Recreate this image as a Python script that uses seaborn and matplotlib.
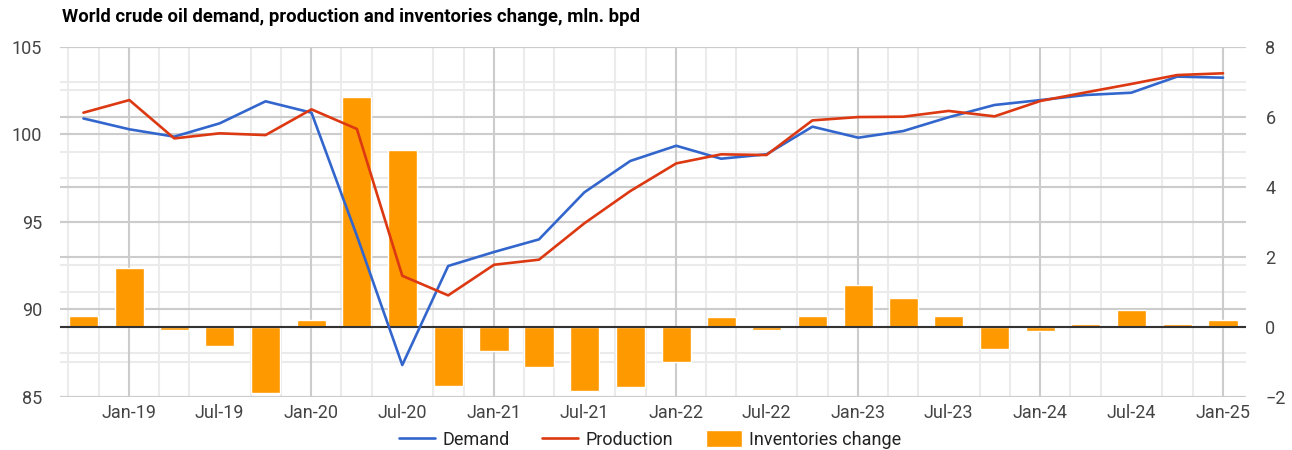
# Tratamiento de datos
import pandas as pd
import numpy as np

# Visualizaciones
import matplotlib
matplotlib.use("Agg")
import matplotlib.pyplot as plt
import matplotlib.dates as mdates
from matplotlib.ticker import MultipleLocator
import seaborn as sns

# Datos trimestrales (Oct-18 ... Jan-25)
fechas = pd.date_range("2018-10-01", "2025-01-01", freq="QS")
demanda = [100.9, 100.28, 99.86, 100.62, 101.88, 101.23, 94.2, 86.81, 92.47, 93.27,
           93.99, 96.68, 98.47, 99.34, 98.6, 98.85, 100.43, 99.8, 100.18, 100.97,
           101.67, 101.95, 102.24, 102.37, 103.29, 103.23]
produccion = [101.23, 101.95, 99.76, 100.05, 99.95, 101.42, 100.3, 91.91, 90.79, 92.54,
              92.83, 94.91, 96.75, 98.33, 98.85, 98.81, 100.79, 100.98, 101.0, 101.33,
              101.02, 101.9, 102.39, 102.87, 103.38, 103.48]
inventarios = [0.31, 1.68, -0.09, -0.54, -1.89, 0.19, 6.56, 5.05, -1.69, -0.69,
               -1.15, -1.84, -1.72, -1.01, 0.28, -0.08, 0.31, 1.19, 0.82, 0.31,
               -0.64, -0.12, 0.07, 0.48, 0.09, 0.19]

etiquetas = ["Demand", "Production", "Inventories change"]
colores = ["#3366cc", "#dc3912", "#ff9900"]

df = pd.DataFrame({
    "x": mdates.date2num(fechas),
    "demanda": demanda,
    "produccion": produccion,
    "inventarios": inventarios,
})

sns.set_style("white")
plt.rcParams["font.family"] = ["Roboto", "DejaVu Sans"]

W, H = 1292, 450
fig = plt.figure(figsize=(W / 100, H / 100), dpi=100)
izq, der, arriba, abajo = 60, 1246, 46.7, 396.7
ax_b = fig.add_axes([izq / W, 1 - abajo / H, (der - izq) / W, (abajo - arriba) / H])
ax_l = ax_b.twinx()

lim_l = (85, 105)
lim_b = (-2, 8)
ax_l.set_ylim(*lim_l)
ax_b.set_ylim(*lim_b)

# Barras de inventarios (eje derecho)
sns.barplot(data=df, x="x", y="inventarios", native_scale=True, width=0.65,
            color=colores[2], saturation=1, ax=ax_b, label=etiquetas[2], zorder=2)

# Lineas de demanda y produccion (eje izquierdo)
sns.lineplot(data=df, x="x", y="demanda", color=colores[0], lw=1.9, ax=ax_l, label=etiquetas[0])
sns.lineplot(data=df, x="x", y="produccion", color=colores[1], lw=1.9, ax=ax_l, label=etiquetas[1])
for a in (ax_b, ax_l):
    if a.get_legend() is not None:
        a.get_legend().remove()

ax_b.set_xlim(mdates.date2num(pd.Timestamp("2018-08-15")),
              mdates.date2num(pd.Timestamp("2025-02-16")))

# Ejes y ticks
ax_l.yaxis.tick_left()
ax_b.yaxis.tick_right()
ax_l.yaxis.set_major_locator(MultipleLocator(5))
ax_b.yaxis.set_major_locator(MultipleLocator(2))
ax_b.yaxis.set_minor_locator(MultipleLocator(1))
ax_b.xaxis.set_major_locator(mdates.MonthLocator(bymonth=[1, 7]))
ax_b.xaxis.set_major_formatter(mdates.DateFormatter("%b-%y"))
ax_b.xaxis.set_minor_locator(mdates.MonthLocator(bymonth=[1, 3, 5, 7, 9, 11]))

for a in (ax_b, ax_l):
    a.set_xlabel("")
    a.set_ylabel("")
    for s in a.spines.values():
        s.set_visible(False)
    a.tick_params(which="both", length=0, labelsize=13, labelcolor="#444444")
ax_l.tick_params(axis="y", pad=13)
ax_b.tick_params(axis="y", pad=14)
ax_b.tick_params(axis="x", pad=5)

# Rejilla
ax_b.set_axisbelow(True)
ax_b.grid(axis="y", which="major", color="#cccccc", lw=1.5)
ax_b.grid(axis="y", which="minor", color="#ebebeb", lw=1.5)
ax_b.grid(axis="x", which="minor", color="#ebebeb", lw=1.5)
ax_b.grid(axis="x", which="major", visible=False)


def a_derecha(v):
    return lim_b[0] + (v - lim_l[0]) / (lim_l[1] - lim_l[0]) * (lim_b[1] - lim_b[0])


for v in np.arange(85, 105.1, 5):
    ax_b.axhline(a_derecha(v), color="#cccccc", lw=1.5, zorder=0.8)
for v in np.arange(87.5, 105, 5):
    ax_b.axhline(a_derecha(v), color="#ebebeb", lw=1.5, zorder=0.6)
for anio in range(2019, 2026):
    ax_b.axvline(mdates.date2num(pd.Timestamp(f"{anio}-01-01")), color="#cccccc", lw=1.5, zorder=0.8)

ax_b.axhline(0, color="#333333", lw=1.5, zorder=3)

# Titulo y leyenda
fig.text(62 / W, 1 - 17 / H, "World crude oil demand, production and inventories change, mln. bpd",
         fontsize=13.3, fontweight="bold", ha="left", va="center", color="#000000")

h1, l1 = ax_l.get_legend_handles_labels()
h2, l2 = ax_b.get_legend_handles_labels()
fig.legend(h1 + h2, l1 + l2, loc="center", bbox_to_anchor=(650 / W, 1 - 439.5 / H), ncol=3,
           frameon=False, fontsize=13, handlelength=2, handleheight=1,
           handletextpad=0.4, columnspacing=1.8, labelcolor="#222222")

fig.savefig("out.png", dpi=100)
